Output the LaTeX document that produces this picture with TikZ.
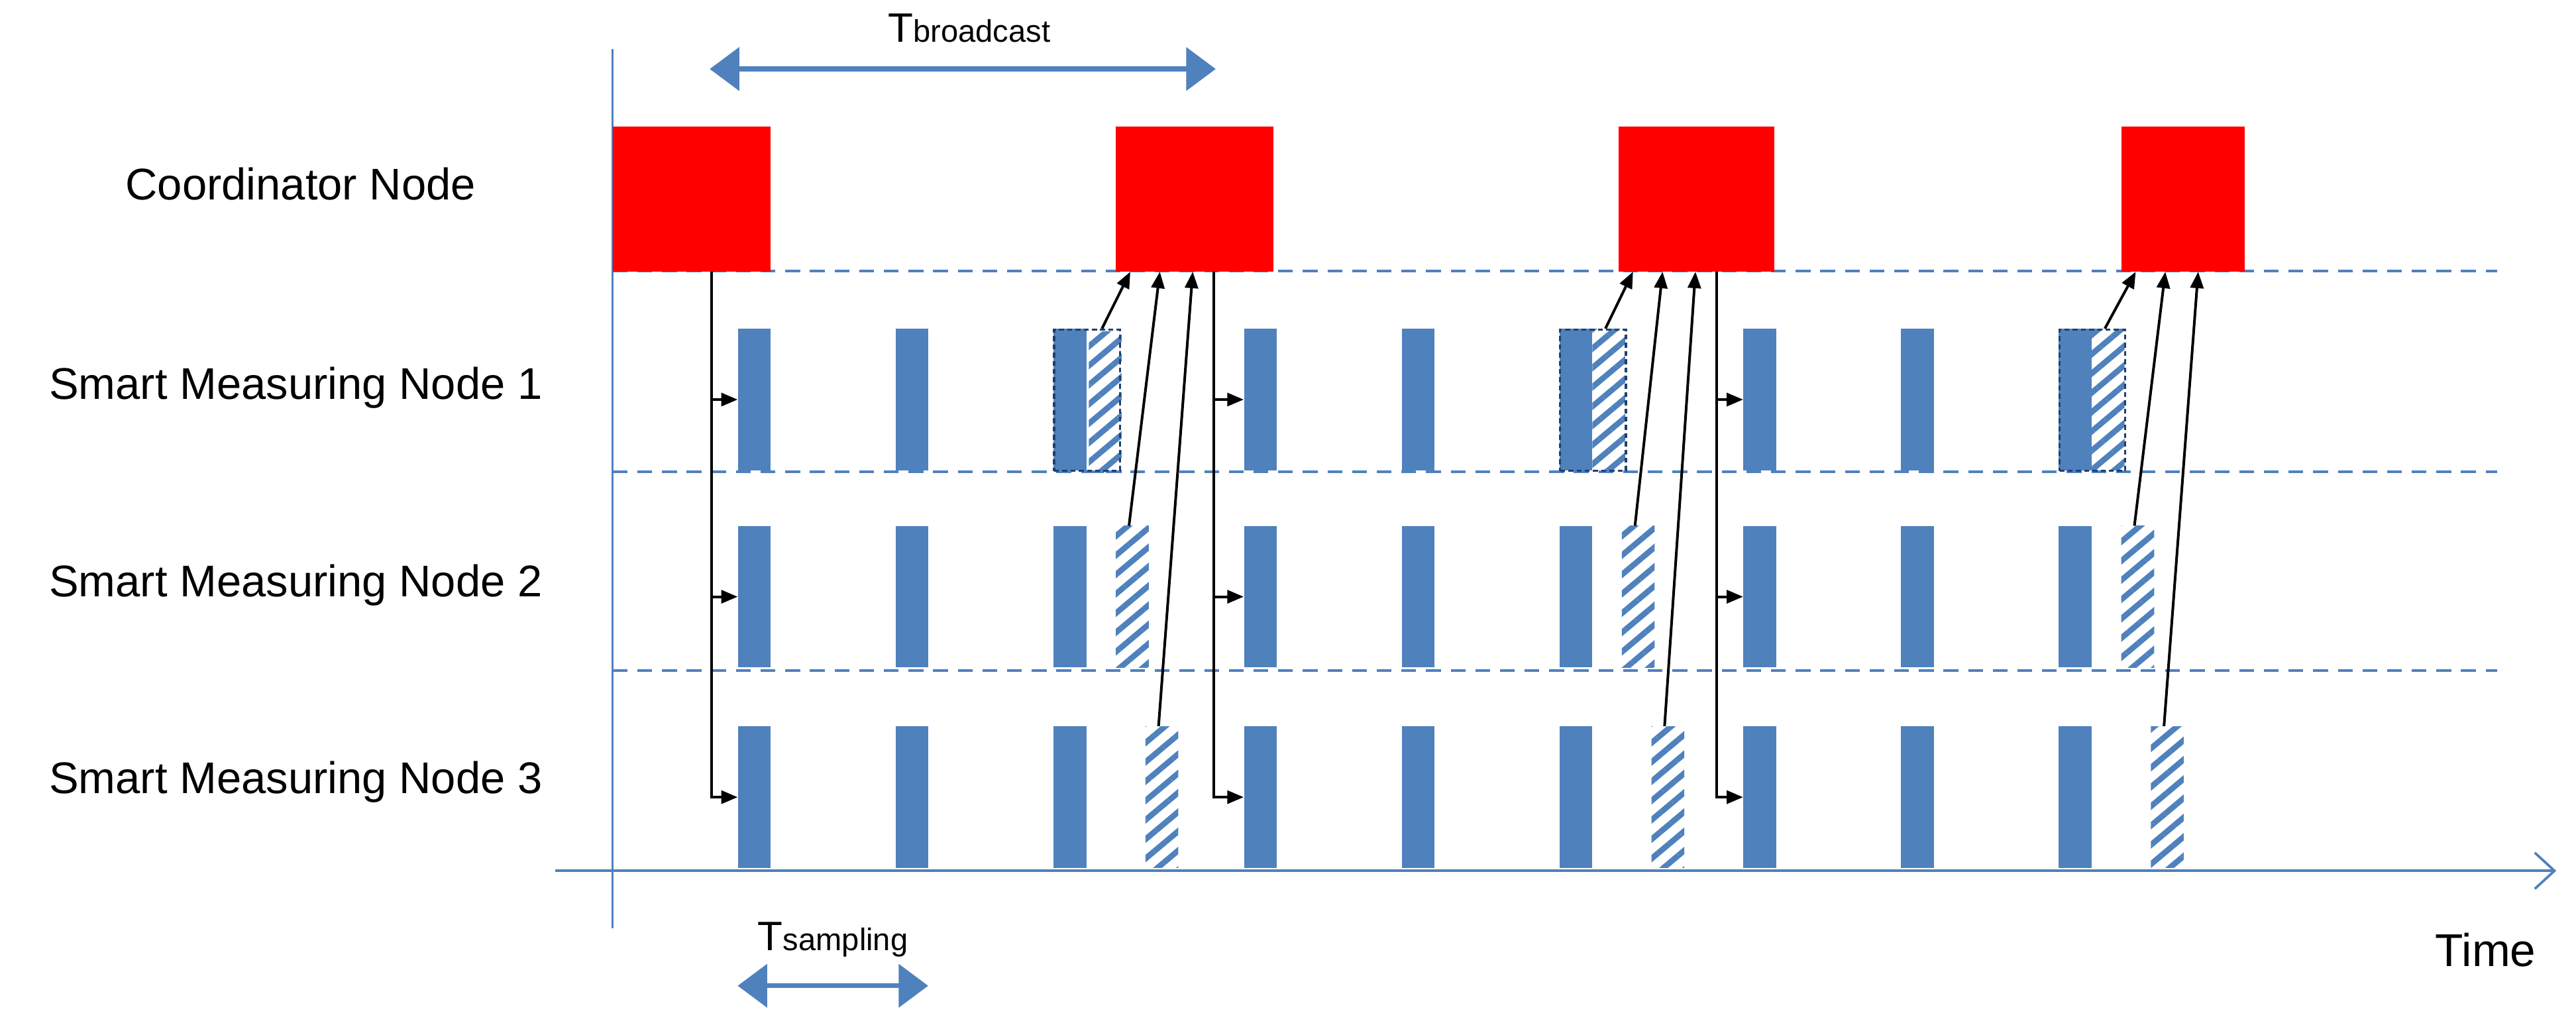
\documentclass[tikz,border=0pt]{standalone}
\usepackage{fontspec}
\setmainfont{Liberation Sans}
\usetikzlibrary{arrows.meta,patterns.meta}
\definecolor{barblue}{HTML}{4F81BD}
\definecolor{dotblue}{HTML}{1F3F6F}
\tikzset{
  coord/.style={fill=red,inner sep=0pt,minimum height=88pt,anchor=north west},
  bar/.style={fill=barblue,inner sep=0pt,minimum width=20pt,minimum height=86pt,anchor=north west},
  hatch/.style={inner sep=0pt,minimum width=20pt,minimum height=86pt,anchor=north west,
    pattern={Lines[angle=40,distance=9pt,line width=3.5pt]},pattern color=barblue},
  group/.style={draw=dotblue,densely dashed,line width=1.3pt,inner sep=0pt,minimum width=40pt,minimum height=86pt,anchor=north west},
  msg/.style={->,line width=1.6pt},
  period/.style={{Triangle[length=18pt,width=26pt]}-{Triangle[length=18pt,width=26pt]},barblue,line width=3pt},
  lbl/.style={font=\fontsize{27}{30}\selectfont}
}
\begin{document}
\begin{tikzpicture}[x=1pt,y=-1pt,>={Triangle[length=10pt,width=8pt]}]
\useasboundingbox (0,0) rectangle (1568,626);
% axes and separators
\draw[barblue,line width=1.2pt] (373,30) -- (373,565);
\draw[barblue,line width=1.5pt,-{Straight Barb[length=12pt,width=22pt]}] (338,530) -- (1556,530);
\foreach \y in {165,287,408}
  \draw[barblue,line width=1.5pt,dash pattern=on 9pt off 6pt] (373,\y) -- (1520,\y);
% labels
\node[lbl] (lc) at (183,112) {Coordinator Node};
\foreach \r/\y in {1/236,2/356,3/476}
  \node[lbl] (l\r) at (180,\y) {Smart Measuring Node \r};
\node[lbl,font=\fontsize{28}{30}\selectfont] (time) at (1513,578) {Time};
% coordinator frames
\foreach \k/\x/\w in {0/373/96,1/679/96,2/985/95,3/1291/75}
  \node[coord,minimum width=\w pt] (c\k) at (\x,77) {};
% sampling slots
\foreach \g/\x in {0/449,1/757,2/1061}{
  \foreach \r/\y in {1/200,2/320,3/442}{
    \foreach \i in {0,1,2}
      \node[bar] (s-\g-\r-\i) at ({\x+96*\i},\y) {};
  }
  \node[hatch] (h-\g-1) at (\x+212,200) {};
  \node[hatch] (h-\g-2) at (\x+230,320) {};
  \node[hatch] (h-\g-3) at (\x+248,442) {};
  \node[group] (grp-\g) at (\x+192,200) {};
}
% broadcast and reports
\foreach \g/\k/\n in {0/0/1,1/1/2,2/2/3}{
  \draw[msg] ([xshift=60pt]c\k.south west) |- (s-\g-3-0.west);
  \foreach \r in {1,2}
    \draw[msg] ([xshift=60pt]c\k.south west |- s-\g-\r-0.west) -- (s-\g-\r-0.west);
  \draw[msg] ([xshift=-2pt]h-\g-1.north) -- ([xshift=9pt]c\n.south west);
  \draw[msg] ([xshift=-2pt]h-\g-2.north) -- ([xshift=27pt]c\n.south west);
  \draw[msg] ([xshift=-2pt]h-\g-3.north) -- ([xshift=47pt]c\n.south west);
}
% periods
\coordinate (tb1) at (432,42);
\coordinate (tb2) at (740,42);
\draw[period] (tb1) -- (tb2);
\node (tbl) at (590,17) {\fontsize{25}{26}\selectfont T\fontsize{19}{20}\selectfont broadcast};
\coordinate (ts1) at (449,600);
\coordinate (ts2) at (565,600);
\draw[period] (ts1) -- (ts2);
\node (tsl) at (507,572) {\fontsize{25}{26}\selectfont T\fontsize{19}{20}\selectfont sampling};
\end{tikzpicture}
\end{document}
